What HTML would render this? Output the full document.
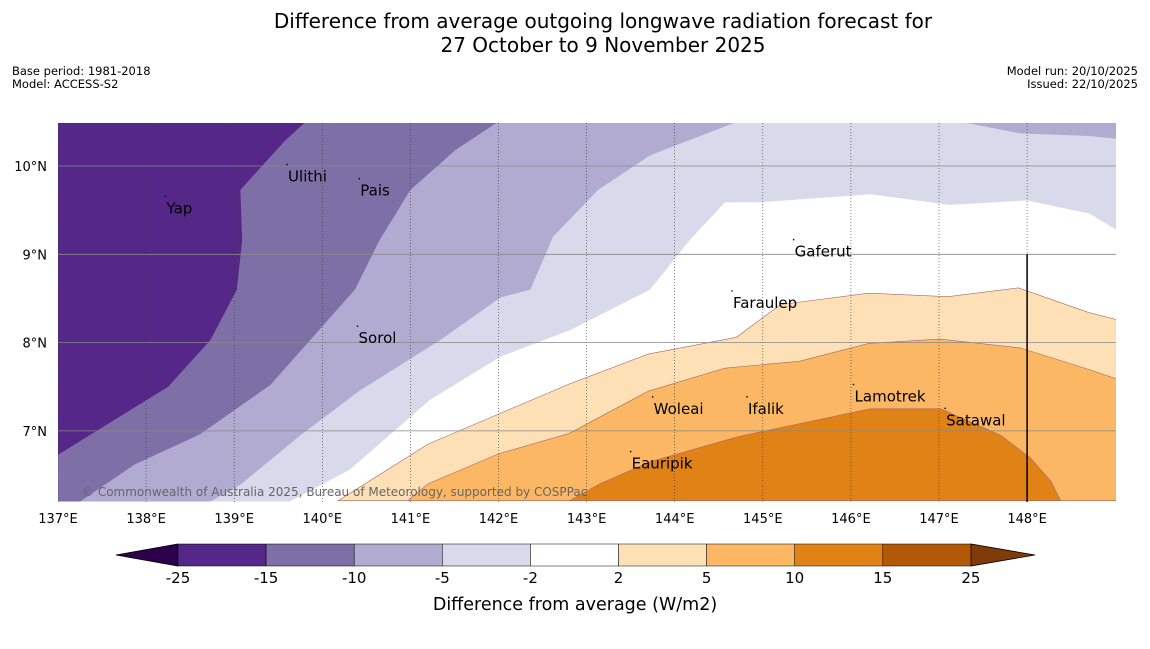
<!DOCTYPE html>
<html><head><meta charset="utf-8"><style>
body{margin:0;background:#fff;font-family:"Liberation Sans","DejaVu Sans",sans-serif;}
svg text{font-family:"DejaVu Sans","Liberation Sans",sans-serif;}
</style></head><body>
<svg id="c" width="1150" height="644" xmlns="http://www.w3.org/2000/svg">
<rect width="1150" height="644" fill="#fff"/>
<text x="603" y="28" font-size="20" text-anchor="middle">Difference from average outgoing longwave radiation forecast for</text>
<text x="603" y="52" font-size="20" text-anchor="middle">27 October to 9 November 2025</text>
<text x="12" y="75" font-size="11.5">Base period: 1981-2018</text>
<text x="12" y="88" font-size="11.5">Model: ACCESS-S2</text>
<text x="1138" y="75" font-size="11.5" text-anchor="end">Model run: 20/10/2025</text>
<text x="1138" y="88" font-size="11.5" text-anchor="end">Issued: 22/10/2025</text>
<defs><clipPath id="mc"><rect x="58" y="123" width="1058" height="379"/></clipPath></defs>
<g id="map" clip-path="url(#mc)"></g>
<g id="over"></g>
<g id="cbar"></g>
</svg>
<script>
const NS="http://www.w3.org/2000/svg";
// contour boundaries in [lon, lat]
const purple15=[[137,10.49],[139.8,10.49],[139.58,10.29],[139.07,9.73],[139.09,9.16],[139.03,8.6],[138.73,8.03],[138.25,7.5],[137,6.73]];
const purple10=[[137,10.49],[141.98,10.49],[141.51,10.18],[141.0,9.73],[140.65,9.16],[140.37,8.6],[139.97,8.15],[139.41,7.52],[138.61,6.96],[137.87,6.62],[137.25,6.2],[137,6.2]];
const purple5=[[137,10.49],[144.68,10.49],[143.72,10.12],[143.13,9.73],[142.62,9.2],[142.36,8.6],[142.02,8.51],[141.34,8.03],[140.43,7.46],[139.75,6.95],[139.07,6.39],[138.73,6.2],[137,6.2]];
const purple2=[[137,6.2],[139.63,6.2],[140.31,6.56],[141.22,7.35],[142.02,7.84],[142.81,8.14],[143.72,8.6],[144.17,9.16],[144.57,9.59],[144.97,9.59],[146.22,9.68],[147.12,9.56],[148.0,9.61],[148.71,9.46],[149.01,9.28],[149.1,9.25],[149.1,10.49],[137,10.49]];
const purple5b=[[147.3,10.49],[147.92,10.37],[148.71,10.34],[149.1,10.3],[149.1,10.49]];
const orange2=[[140.18,6.21],[141.2,6.85],[142,7.19],[142.8,7.53],[143.7,7.87],[144.7,8.06],[145.2,8.43],[146.2,8.56],[147.1,8.52],[147.9,8.62],[148.7,8.34],[149.1,8.24],[149.1,6.21]];
const orange5=[[140.97,6.21],[141.2,6.4],[142,6.74],[142.8,6.97],[143.7,7.45],[144.57,7.71],[145.42,7.79],[146.2,7.99],[147.01,8.04],[147.92,7.94],[148.72,7.69],[149.1,7.56],[149.1,6.21]];
const orange10=[[142.81,6.21],[143.15,6.4],[143.72,6.65],[144.74,6.94],[146.22,7.25],[147.02,7.25],[147.7,6.95],[148.04,6.69],[148.27,6.43],[148.38,6.21]];
const levels=[-25,-15,-10,-5,-2,2,5,10,15,25];
const colors=["#542788","#7f6fa7","#b1aad1","#d8d9ea","#ffffff","#fde0b6","#fbb764","#e08215","#b35806"];
const lonTicks=[137,138,139,140,141,142,143,144,145,146,147,148];
const latTicks=[10,9,8,7];
const places=["Yap","Ulithi","Pais","Sorol","Gaferut","Faraulep","Woleai","Ifalik","Lamotrek","Satawal","Eauripik"];
const placeLon=[138.22,139.6,140.42,140.4,145.35,144.65,143.75,144.82,146.03,147.07,143.5];
const placeLat=[9.52,9.88,9.72,8.05,9.03,8.45,7.25,7.25,7.39,7.12,6.63];
const X=lon=>58+(lon-137)*88.1, Y=lat=>166-(lat-10)*88.3;
const map=document.getElementById('map'), over=document.getElementById('over'), cb=document.getElementById('cbar');
function mk(tag,at,par){const e=document.createElementNS(NS,tag);for(const k in at)e.setAttribute(k,at[k]);par.appendChild(e);return e;}
function poly(pts,fill,name,stroke){const p=mk('polygon',{points:pts.map(q=>X(q[0])+','+Y(q[1])).join(' '),fill:fill,stroke:stroke||'none','stroke-width':0.6},map);

}
mk('rect',{x:58,y:123,width:1058,height:379,fill:'#fff'},map);
poly(purple2,'#d8d9ea','region-minus2');
poly(purple5,'#b1aad1','region-minus5');
poly(purple5b,'#b1aad1','region-minus5-ne');
poly(purple10,'#7f6fa7','region-minus10');
poly(purple15,'#542788','region-minus15');
poly(orange2,'#fde0b6','region-plus2','#a66');
poly(orange5,'#fbb764','region-plus5','#a66');
poly(orange10,'#e08215','region-plus10','#a66');
lonTicks.forEach(l=>{const ln=mk('line',{x1:X(l),x2:X(l),y1:123,y2:502,stroke:'#333','stroke-width':0.6,'stroke-dasharray':'1,2'},map);


const t=mk('text',{x:X(l),y:523,'font-size':13,'text-anchor':'middle'},over);t.textContent=l+'°E';

});
latTicks.forEach(l=>{const ln=mk('line',{x1:58,x2:1116,y1:Y(l),y2:Y(l),stroke:'#888','stroke-width':0.8},map);


const t=mk('text',{x:47,y:Y(l)+5,'font-size':13,'text-anchor':'end'},over);t.textContent=l+'°N';

});
const vl=mk('line',{x1:X(148),x2:X(148),y1:Y(9),y2:502,stroke:'#000','stroke-width':1.5},map);


places.forEach((p,i)=>{const d=mk('circle',{cx:X(placeLon[i]),cy:Y(placeLat[i])-12,r:0.8,fill:'#000'},over);


const t=mk('text',{x:X(placeLon[i])+1,y:Y(placeLat[i])+5,'font-size':15},over);t.textContent=p;

});
const cr=mk('text',{x:82,y:496,'font-size':12,fill:'#666'},over);cr.textContent='© Commonwealth of Australia 2025, Bureau of Meteorology, supported by COSPPac';


// colorbar
const cx0=178,cw=88.1,cy=544,ch=22;
const l=mk('polygon',{points:`${cx0},${cy} ${cx0},${cy+ch} 116,${cy+ch/2}`,fill:'#2d004b',stroke:'#000','stroke-width':0.8},cb);


const xe=cx0+cw*colors.length;
const r=mk('polygon',{points:`${xe},${cy} ${xe},${cy+ch} 1035,${cy+ch/2}`,fill:'#7f3b08',stroke:'#000','stroke-width':0.8},cb);


colors.forEach((c,i)=>{const s=mk('rect',{x:cx0+i*cw,y:cy,width:cw,height:ch,fill:c,stroke:'#000','stroke-width':0.5},cb);

});
levels.forEach((v,i)=>{const t=mk('text',{x:cx0+i*cw,y:583,'font-size':15,'text-anchor':'middle'},cb);t.textContent=v;

});
const ct=mk('text',{x:575,y:610,'font-size':17.5,'text-anchor':'middle'},cb);ct.textContent='Difference from average (W/m2)';


</script>
</body></html>
